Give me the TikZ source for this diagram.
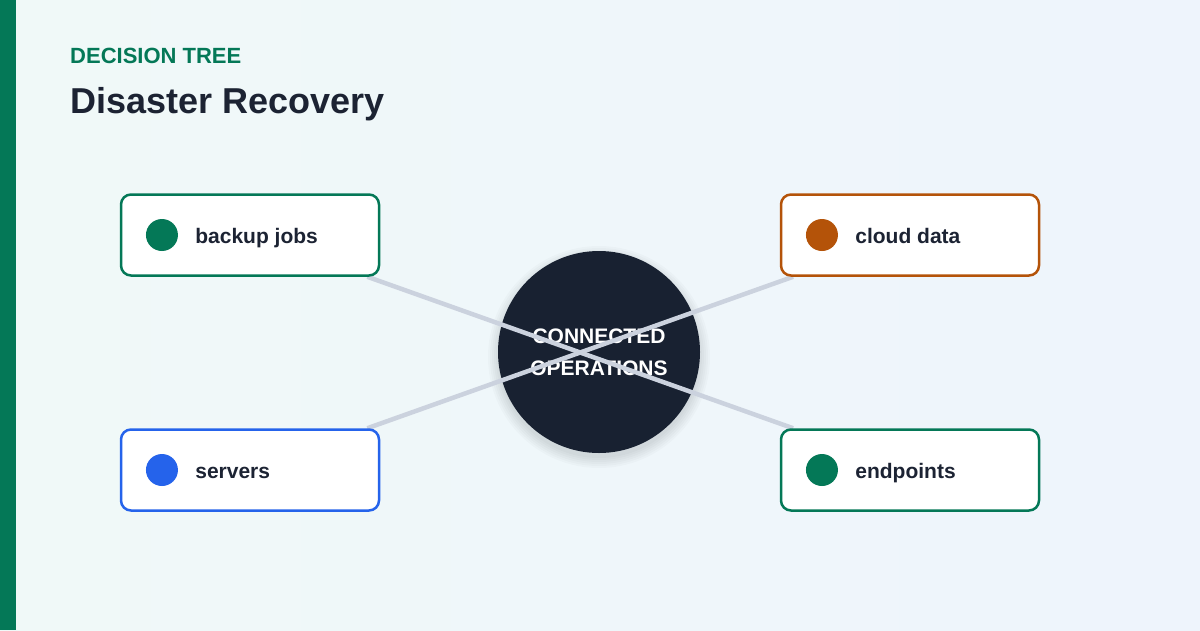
\documentclass[tikz,border=0pt]{standalone}
\usepackage{fontspec}
\setmainfont{Liberation Sans}
\usepackage{tikz}
\usepackage{xcolor}
\usetikzlibrary{positioning,calc}
\definecolor{brandgreen}{RGB}{4,120,87}
\definecolor{rustorange}{RGB}{180,83,9}
\definecolor{royalblue}{RGB}{37,99,235}
\definecolor{hubnavy}{RGB}{24,33,49}
\definecolor{inkdark}{RGB}{28,35,51}
\definecolor{linkgray}{RGB}{203,210,222}
\definecolor{bgleft}{RGB}{240,249,248}
\definecolor{bgright}{RGB}{238,244,252}
\pgfdeclarelayer{bglayer}
\pgfdeclarelayer{hublayer}
\pgfdeclarelayer{linklayer}
\pgfsetlayers{bglayer,hublayer,linklayer,main}

\begin{document}
\begin{tikzpicture}[
  x=1pt, y=-1pt,
  font=\bfseries,
  card/.style={draw, line width=2.5pt, fill=white, rounded corners=10pt, minimum width=258pt, minimum height=81pt},
  dot/.style={circle, minimum size=32pt, inner sep=0pt},
  cardtext/.style={inner sep=0pt, text=inkdark, font=\bfseries\fontsize{21}{24}\selectfont},
  link/.style={draw=linkgray, line width=4.5pt}
]
\useasboundingbox (0,0) rectangle (1200,630);
\begin{pgfonlayer}{bglayer}
\shade[left color=bgleft, right color=bgright] (0,0) rectangle (1200,630);
\fill[brandgreen] (0,0) rectangle (16,630);
\end{pgfonlayer}

\node[anchor=base west, inner sep=0pt, text=brandgreen, font=\bfseries\fontsize{22}{24}\selectfont] (kicker) at (70,63) {DECISION TREE};
\node[anchor=base west, inner sep=0pt, text=inkdark, font=\bfseries\fontsize{36}{40}\selectfont] (title) at (70,113) {Disaster Recovery};

% hub
\begin{pgfonlayer}{hublayer}
\foreach \r in {101,103,...,111}
  \fill[black, opacity=0.018] (599,357) circle (\r);
\node[circle, fill=hubnavy, minimum size=202pt, inner sep=0pt, align=center, text=white,
  font=\bfseries\fontsize{21}{32}\selectfont] (hub) at (599,352) {CONNECTED\\OPERATIONS};
\end{pgfonlayer}

% cards
\node[card, draw=brandgreen] (backup) at (250,235) {};
\node[card, draw=rustorange] (cloud) at (910,235) {};
\node[card, draw=royalblue] (servers) at (250,470) {};
\node[card, draw=brandgreen] (endpoints) at (910,470) {};

\node[dot, fill=brandgreen, right=26pt of backup.west] (backupdot) {};
\node[cardtext, right=17pt of backupdot, anchor=base west, yshift=-8pt] (backuplabel) {backup jobs};
\node[dot, fill=rustorange, right=26pt of cloud.west] (clouddot) {};
\node[cardtext, right=17pt of clouddot, anchor=base west, yshift=-8pt] (cloudlabel) {cloud data};
\node[dot, fill=royalblue, right=26pt of servers.west] (serversdot) {};
\node[cardtext, right=17pt of serversdot, anchor=base west, yshift=-8pt] (serverslabel) {servers};
\node[dot, fill=brandgreen, right=26pt of endpoints.west] (endpointsdot) {};
\node[cardtext, right=17pt of endpointsdot, anchor=base west, yshift=-8pt] (endpointslabel) {endpoints};

% links cross over the hub
\begin{pgfonlayer}{linklayer}
\draw[link] (backup) -- (endpoints);
\draw[link] (servers) -- (cloud);
\end{pgfonlayer}
\end{tikzpicture}
\end{document}
